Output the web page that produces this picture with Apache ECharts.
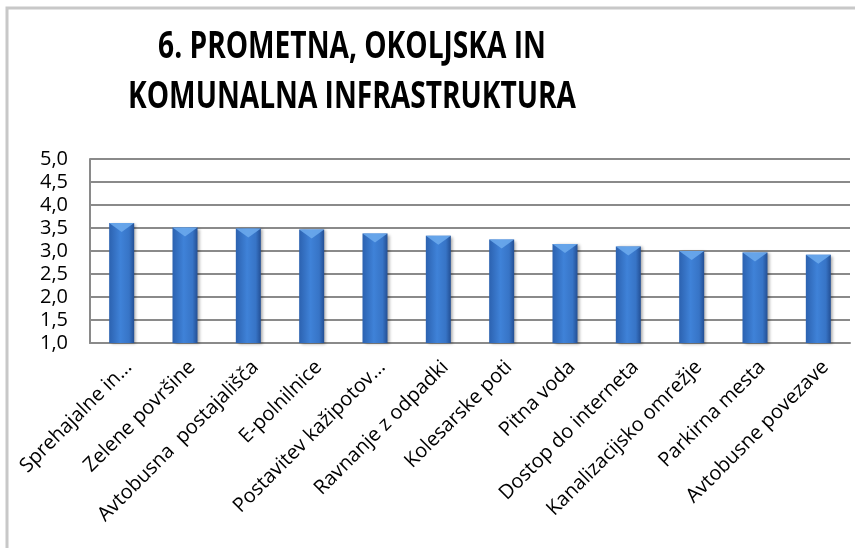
<!DOCTYPE html>
<html>
<head>
<meta charset="utf-8">
<script src="https://cdn.jsdelivr.net/npm/echarts@6/dist/echarts.min.js"></script>
<style>
  html, body { margin: 0; padding: 0; background: #fff; }
  #chart { width: 855px; height: 548px; }
</style>
</head>
<body>
<div id="chart"></div>
<script>
// Categories (x axis) and average scores (y axis)
const categories = [
  'Sprehajalne in...',
  'Zelene površine',
  'Avtobusna  postajališča',
  'E-polnilnice',
  'Postavitev kažipotov...',
  'Ravnanje z odpadki',
  'Kolesarske poti',
  'Pitna voda',
  'Dostop do interneta',
  'Kanalizacijsko omrežje',
  'Parkirna mesta',
  'Avtobusne povezave'
];
const scores = [3.61, 3.51, 3.49, 3.47, 3.38, 3.33, 3.25, 3.15, 3.10, 3.00, 2.97, 2.92];
const titleLines = ['6. PROMETNA, OKOLJSKA IN', 'KOMUNALNA INFRASTRUKTURA'];

const FONT = '"Open Sans", "Noto Sans", sans-serif';
const GRID_COLOR = '#8a8a8a';

const chart = echarts.init(document.getElementById('chart'), null, { renderer: 'canvas' });

// Title lines: bold, horizontally condensed
const titleGraphics = titleLines.map((line, i) => ({
  type: 'text',
  x: 352,
  y: 47 + i * 50,
  scaleX: 0.74,
  silent: true,
  style: {
    text: line,
    fontFamily: FONT,
    fontWeight: 'bold',
    fontSize: 38,
    fill: '#000',
    align: 'center',
    verticalAlign: 'middle'
  }
}));

chart.setOption({
  backgroundColor: '#ffffff',
  animation: false,
  grid: {
    left: 90,
    right: 5,
    top: 159,
    bottom: 205,
    containLabel: false
  },
  xAxis: {
    type: 'category',
    data: categories,
    axisLine: { show: true, lineStyle: { color: GRID_COLOR, width: 2 } },
    axisTick: { show: false },
    axisLabel: {
      interval: 0,
      rotate: 45,
      margin: 14,
      verticalAlign: 'top',
      fontFamily: FONT,
      fontSize: 20,
      color: '#000'
    }
  },
  yAxis: {
    type: 'value',
    min: 1,
    max: 5,
    interval: 0.5,
    axisLine: { show: true, lineStyle: { color: GRID_COLOR, width: 2 } },
    axisTick: { show: false },
    splitLine: { show: true, lineStyle: { color: GRID_COLOR, width: 2 } },
    axisLabel: {
      margin: 22,
      fontFamily: FONT,
      fontSize: 20,
      color: '#000',
      formatter: v => v.toFixed(1).replace('.', ',')
    }
  },
  series: [
    {
      type: 'bar',
      data: scores,
      barWidth: 25,
      itemStyle: {
        color: new echarts.graphic.LinearGradient(0, 0, 1, 0, [
          { offset: 0, color: '#2c62b0' },
          { offset: 0.45, color: '#3f82d8' },
          { offset: 0.8, color: '#3774c6' },
          { offset: 1, color: '#234f94' }
        ]),
        shadowColor: 'rgba(0,0,0,0.35)',
        shadowBlur: 3,
        shadowOffsetX: 2,
        shadowOffsetY: 1
      },
      z: 2
    },
    {
      // bevel highlight on the top of every bar
      type: 'scatter',
      data: scores,
      symbol: 'path://M0,0 L20,0 L10,7 Z',
      symbolSize: [25, 9],
      symbolOffset: [0, 4.5],
      itemStyle: { color: '#6aa8ec', opacity: 0.9 },
      silent: true,
      z: 3
    }
  ],
  graphic: [
    {
      type: 'polyline',
      shape: { points: [[7, 548], [7, 8], [855, 8]] },
      style: { stroke: '#c8c8c8', lineWidth: 3, fill: null },
      silent: true
    }
  ].concat(titleGraphics)
});
</script>
</body>
</html>
